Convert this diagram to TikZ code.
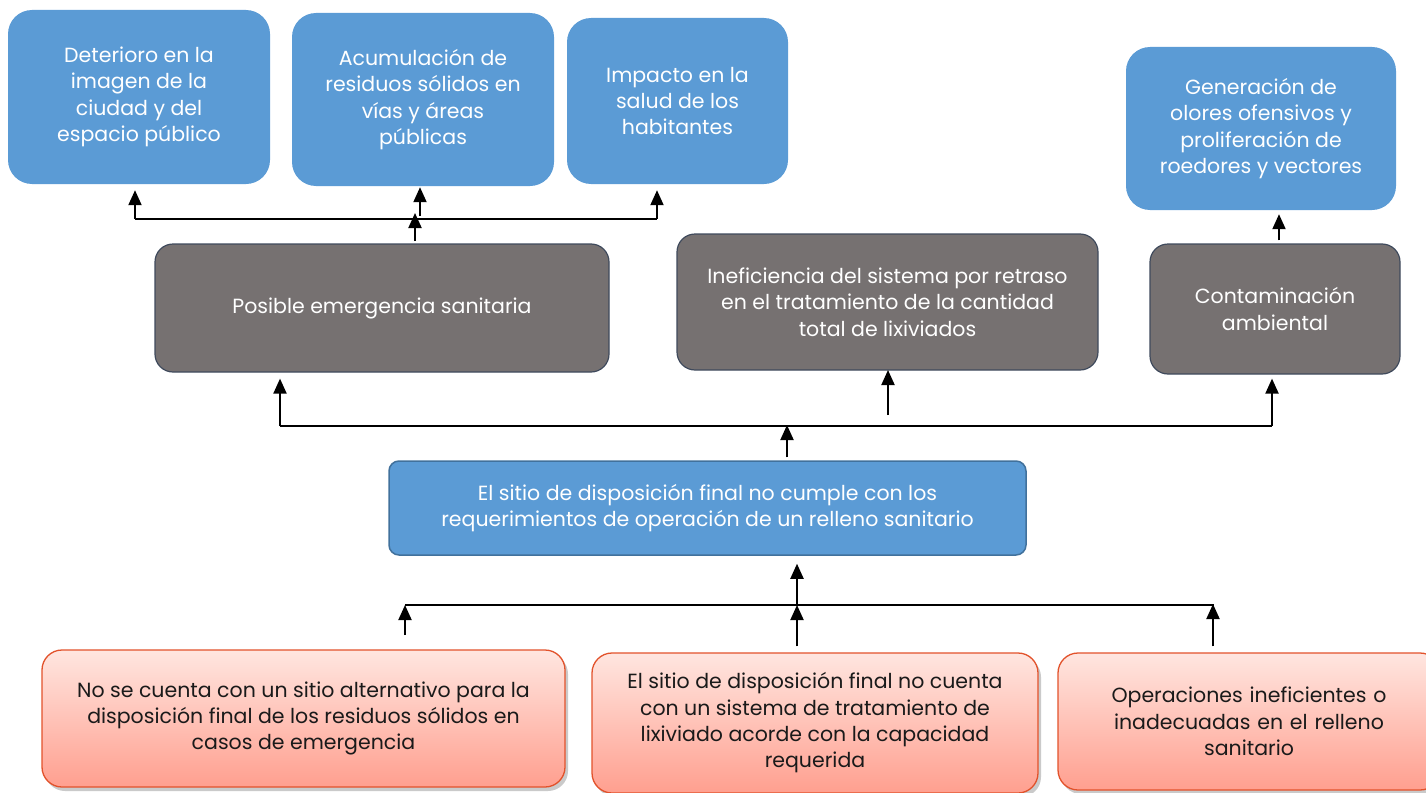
\documentclass[tikz,border=0pt]{standalone}
\usepackage{fontspec}
\setmainfont{Poppins}
\usetikzlibrary{arrows.meta,shadows,positioning}
\definecolor{bxblue}{HTML}{5B9BD5}
\definecolor{bxgray}{HTML}{767171}
\definecolor{grayedge}{HTML}{3F4A5C}
\definecolor{blueedge}{HTML}{41719C}
\definecolor{rededge}{HTML}{E2522B}
\definecolor{redtop}{HTML}{FFE6E0}
\definecolor{redbot}{HTML}{FF9F8F}
\definecolor{txtdark}{HTML}{1A1A1A}
\tikzset{
  base/.style={inner sep=0pt, align=center, font=\fontsize{20.5}{26.3}\selectfont},
  effbox/.style={base, fill=bxblue, text=white, rounded corners=24pt},
  graybox/.style={base, fill=bxgray, draw=grayedge, line width=1.2pt, text=white, rounded corners=18pt},
  corebox/.style={base, fill=bxblue, draw=blueedge, line width=1.5pt, text=white, rounded corners=10pt},
  causebox/.style={base, draw=rededge, line width=1.3pt, text=txtdark, rounded corners=20pt,
     top color=redtop, bottom color=redbot,
     drop shadow={shadow xshift=3pt, shadow yshift=-4pt, opacity=0.35, fill=black!60}},
  arr/.style={line width=2pt, -{Triangle[width=13pt,length=15pt]}},
  hline/.style={line width=1.6pt, black}
}
\begin{document}
\begin{tikzpicture}[x=1pt,y=-1pt]
\useasboundingbox (0,0) rectangle (1426,792);
\clip (0,0) rectangle (1426,792);
% effects
\node[effbox, minimum width=262pt, minimum height=174pt] (d1) at (139,97) {Deterioro en la\\imagen de la\\ciudad y del\\espacio público};
\node[effbox, minimum width=262pt, minimum height=173pt] (d2) at (423,99.5) {Acumulación de\\residuos sólidos en\\vías y áreas\\públicas};
\node[effbox, minimum width=221pt, minimum height=166pt] (d3) at (677.5,101) {Impacto en la\\salud de los\\habitantes};
\node[effbox, minimum width=270pt, minimum height=163pt] (d4) at (1261,128.5) {Generación de\\olores ofensivos y\\proliferación de\\roedores y vectores};
% intermediate
\node[graybox, minimum width=454pt, minimum height=128pt] (p1) at (382,308) {Posible emergencia sanitaria};
\node[graybox, minimum width=421pt, minimum height=136pt] (p2) at (887.5,302) {Ineficiencia del sistema por retraso\\en el tratamiento de la cantidad\\total de lixiviados};
\node[graybox, minimum width=250pt, minimum height=130pt] (p3) at (1275,309) {Contaminación\\ambiental};
% core
\node[corebox, minimum width=637pt, minimum height=94pt] (c) at (707.5,508) {El sitio de disposición final no cumple con los\\requerimientos de operación de un relleno sanitario};
% causes
\node[causebox, minimum width=523pt, minimum height=137pt] (r1) at (303.5,718.5) {No se cuenta con un sitio alternativo para la\\disposición final de los residuos sólidos en\\casos de emergencia};
\node[causebox, minimum width=446pt, minimum height=140pt] (r2) at (815,723) {El sitio de disposición final no cuenta\\con un sistema de tratamiento de\\lixiviado acorde con la capacidad\\requerida};
\node[causebox, minimum width=382pt, minimum height=137pt, text width=330pt] (r3) at (1249,721.5) {Operaciones ineficientes o\\inadecuadas en el relleno\\sanitario};
% top connectors
\coordinate (ta) at (135,219);
\coordinate (tb) at (657,219);
\draw[hline] (ta) -- (tb);
\draw[arr] (ta) -- ([yshift=-6pt]ta |- d1.south);
\draw[arr] (tb) -- ([yshift=-6pt]tb |- d3.south);
\draw[arr] (420,216) -- ([yshift=-1pt]d2.south -| 420,0);
\coordinate (pa) at (415,241);
\draw[arr] (pa) -- (415,213);
\draw[arr] ([yshift=3pt]p3.north -| 1279,0) -- ([yshift=-4pt]d4.south -| 1279,0);
% middle connectors
\coordinate (ma) at (280,426);
\coordinate (mb) at (1272,426);
\draw[hline] (ma) -- (mb);
\draw[arr] (ma) -- ([yshift=-6pt]ma |- p1.south);
\draw[arr] (mb) -- ([yshift=-4pt]mb |- p3.south);
\draw[arr] (888,415) -- (888 ,370);
\draw[arr] ([yshift=3pt]c.north -| 787,0) -- (787,425);
% bottom connectors
\coordinate (ba) at (405,605);
\coordinate (bb) at (1214,605);
\draw[hline] (ba) -- (bb);
\draw[arr] (797,605) -- ([yshift=-8pt]c.south -| 797,0);
\draw[arr] (405,635) -- (ba);
\draw[arr] ([yshift=6pt]r2.north -| 797,0) -- (797,605);
\draw[arr] ([yshift=6pt]r3.north -| 1213,0) -- (1213,604);
\end{tikzpicture}
\end{document}
